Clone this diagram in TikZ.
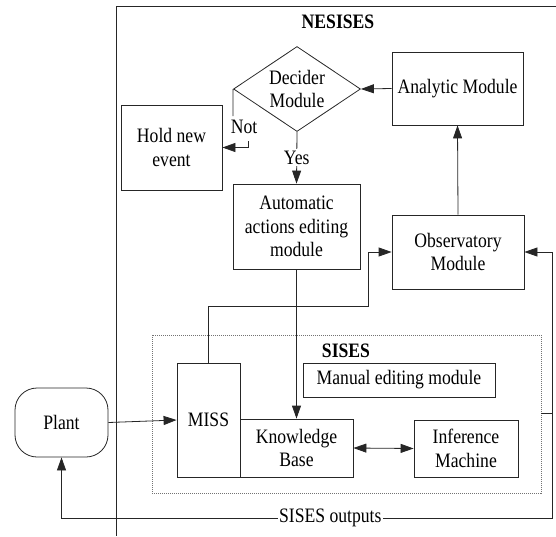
\documentclass[tikz,border=0pt]{standalone}
\usepackage{fontspec}
\setmainfont{Liberation Serif}[FakeStretch=0.86]
\usetikzlibrary{shapes.geometric,arrows.meta}
\begin{document}
\begin{tikzpicture}[x=1pt,y=-1pt,
  font=\fontsize{20.5}{23.5}\selectfont,
  line width=0.8pt,
  box/.style={draw=black!85, align=center, inner sep=0pt},
  wire/.style={draw=black!85},
  arr/.style={wire, -{Triangle[length=13pt,width=9pt]}},
  darr/.style={wire, {Triangle[length=13pt,width=9pt]}-{Triangle[length=13pt,width=9pt]}},
  tag/.style={fill=white, inner sep=1.5pt}]
\useasboundingbox (0,0) rectangle (556,536);

% outer NESISES frame (runs off the right and bottom)
\draw[wire] (556,6) -- (116,6) -- (116,536);
\node[font=\fontsize{20.5}{23.5}\selectfont\bfseries] (nesises) at (338,22) {NESISES};

% upper loop
\node[box, shape=diamond, aspect=1.49, minimum width=127pt, minimum height=85pt]
  (dec) at (297,89) {Decider\\Module};
\node[box, minimum width=131pt, minimum height=73pt] (ana) at (457.5,88.5) {Analytic Module};
\node[box, minimum width=101pt, minimum height=85pt] (hold) at (171.5,147.5) {Hold new\\event};
\node[box, minimum width=127pt, minimum height=85pt] (auto) at (296.5,226.5) {Automatic\\actions editing\\module};
\node[box, minimum width=132pt, minimum height=74pt] (obs) at (458,252) {Observatory\\Module};

% SISES block
\draw[draw=black!55, line width=0.6pt, dash pattern=on 1pt off 1pt] (152,335) rectangle (541,493);
\node[font=\fontsize{20.5}{23.5}\selectfont\bfseries] (sises) at (346,351) {SISES};
\node[box, minimum width=192pt, minimum height=34pt] (man) at (399,380) {Manual editing module};
\node[box, minimum width=63pt, minimum height=114pt] (miss) at (208.5,420) {MISS};
\node[box, minimum width=113pt, minimum height=58pt] (kb) at (296.5,448) {Knowledge\\Base};
\node[box, minimum width=104pt, minimum height=57pt] (inf) at (466,448.5) {Inference\\Machine};

% plant
\node[box, rounded corners=22pt, minimum width=93pt, minimum height=69pt] (plant) at (61.5,422.5) {Plant};

% routing points
\coordinate (notA) at (233,116);
\coordinate (notB) at (248,141);
\coordinate (jA) at (368,306);
\coordinate (sisesOut) at (541,413);
\coordinate (jR) at (552,413);
\coordinate (jB) at (552,518);

% connectors
\draw[arr] (ana.west) -- (dec.east);
\draw[wire] (dec.west) -- (notA);
\node (notlbl) at (244,127) {Not};
\draw[arr] (notB) |- (hold.east);
\draw[arr] (dec.south) -- node[tag] {Yes} (auto.north);
\draw[arr] (auto.south) -- (kb.north);
\draw[arr] (obs.north) -- (ana.south);
\draw[arr] (miss.north) |- (jA) |- (obs.west);
\draw[wire] (sisesOut) -- (jR);
\draw[arr] (jR) |- (obs.east);
\draw[arr] (jR) -- (jB) -| node[tag, pos=0.226] {SISES outputs} (plant.south);
\draw[darr] (kb.east) -- (inf.west);
\draw[arr] (plant.east) -- (miss.west);
\end{tikzpicture}
\end{document}
